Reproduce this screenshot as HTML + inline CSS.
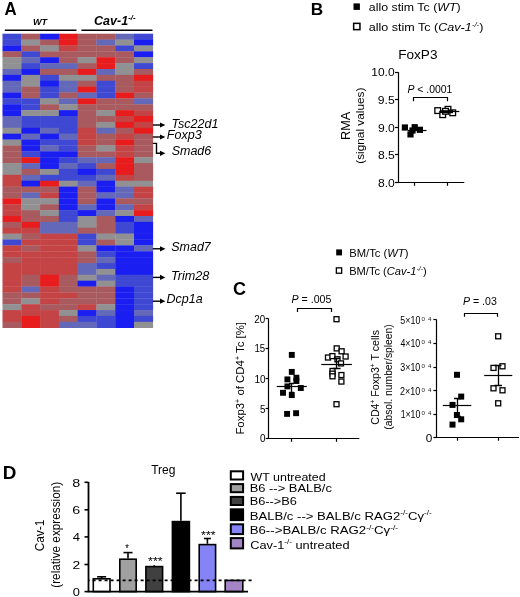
<!DOCTYPE html>
<html><head><meta charset="utf-8">
<style>
html,body{margin:0;padding:0;background:#fff;}
body{width:520px;height:597px;overflow:hidden;}
svg{display:block;filter:blur(0.35px);}
text{font-family:"Liberation Sans",sans-serif;fill:#000;}
.b{font-weight:bold;}
.i{font-style:italic;}
.bi{font-weight:bold;font-style:italic;}
.gr{fill:#1a1a1a;}
</style></head>
<body>
<svg width="520" height="597" viewBox="0 0 520 597">
<rect width="520" height="597" fill="#fff"/>
<line x1="4.8" y1="30.2" x2="76.5" y2="30.2" stroke="#000" stroke-width="1.6"/>
<line x1="81.4" y1="30.2" x2="152.5" y2="30.2" stroke="#000" stroke-width="1.6"/>
<rect x="2.50" y="33.70" width="19.09" height="6.18" fill="#3f48d2"/>
<rect x="21.29" y="33.70" width="19.09" height="6.18" fill="#a85a5e"/>
<rect x="40.08" y="33.70" width="19.09" height="6.18" fill="#1a1ef0"/>
<rect x="58.86" y="33.70" width="19.09" height="6.18" fill="#e81c1c"/>
<rect x="77.65" y="33.70" width="19.09" height="6.18" fill="#a85a5e"/>
<rect x="96.44" y="33.70" width="19.09" height="6.18" fill="#a85a5e"/>
<rect x="115.23" y="33.70" width="19.09" height="6.18" fill="#6468b8"/>
<rect x="134.01" y="33.70" width="19.09" height="6.18" fill="#3f48d2"/>
<rect x="2.50" y="39.58" width="19.09" height="6.18" fill="#3f48d2"/>
<rect x="21.29" y="39.58" width="19.09" height="6.18" fill="#919093"/>
<rect x="40.08" y="39.58" width="19.09" height="6.18" fill="#a85a5e"/>
<rect x="58.86" y="39.58" width="19.09" height="6.18" fill="#e81c1c"/>
<rect x="77.65" y="39.58" width="19.09" height="6.18" fill="#a85a5e"/>
<rect x="96.44" y="39.58" width="19.09" height="6.18" fill="#6468b8"/>
<rect x="115.23" y="39.58" width="19.09" height="6.18" fill="#919093"/>
<rect x="134.01" y="39.58" width="19.09" height="6.18" fill="#1a1ef0"/>
<rect x="2.50" y="45.46" width="19.09" height="6.18" fill="#1a1ef0"/>
<rect x="21.29" y="45.46" width="19.09" height="6.18" fill="#a85a5e"/>
<rect x="40.08" y="45.46" width="19.09" height="6.18" fill="#919093"/>
<rect x="58.86" y="45.46" width="19.09" height="6.18" fill="#c44446"/>
<rect x="77.65" y="45.46" width="19.09" height="6.18" fill="#a85a5e"/>
<rect x="96.44" y="45.46" width="19.09" height="6.18" fill="#a85a5e"/>
<rect x="115.23" y="45.46" width="19.09" height="6.18" fill="#3f48d2"/>
<rect x="134.01" y="45.46" width="19.09" height="6.18" fill="#919093"/>
<rect x="2.50" y="51.34" width="19.09" height="6.18" fill="#a85a5e"/>
<rect x="21.29" y="51.34" width="19.09" height="6.18" fill="#3f48d2"/>
<rect x="40.08" y="51.34" width="19.09" height="6.18" fill="#a85a5e"/>
<rect x="58.86" y="51.34" width="19.09" height="6.18" fill="#a85a5e"/>
<rect x="77.65" y="51.34" width="19.09" height="6.18" fill="#a85a5e"/>
<rect x="96.44" y="51.34" width="19.09" height="6.18" fill="#a85a5e"/>
<rect x="115.23" y="51.34" width="19.09" height="6.18" fill="#a85a5e"/>
<rect x="134.01" y="51.34" width="19.09" height="6.18" fill="#1a1ef0"/>
<rect x="2.50" y="57.22" width="19.09" height="6.18" fill="#919093"/>
<rect x="21.29" y="57.22" width="19.09" height="6.18" fill="#6468b8"/>
<rect x="40.08" y="57.22" width="19.09" height="6.18" fill="#1a1ef0"/>
<rect x="58.86" y="57.22" width="19.09" height="6.18" fill="#a85a5e"/>
<rect x="77.65" y="57.22" width="19.09" height="6.18" fill="#919093"/>
<rect x="96.44" y="57.22" width="19.09" height="6.18" fill="#e81c1c"/>
<rect x="115.23" y="57.22" width="19.09" height="6.18" fill="#a85a5e"/>
<rect x="134.01" y="57.22" width="19.09" height="6.18" fill="#919093"/>
<rect x="2.50" y="63.10" width="19.09" height="6.18" fill="#919093"/>
<rect x="21.29" y="63.10" width="19.09" height="6.18" fill="#3f48d2"/>
<rect x="40.08" y="63.10" width="19.09" height="6.18" fill="#6468b8"/>
<rect x="58.86" y="63.10" width="19.09" height="6.18" fill="#6468b8"/>
<rect x="77.65" y="63.10" width="19.09" height="6.18" fill="#a85a5e"/>
<rect x="96.44" y="63.10" width="19.09" height="6.18" fill="#e81c1c"/>
<rect x="115.23" y="63.10" width="19.09" height="6.18" fill="#919093"/>
<rect x="134.01" y="63.10" width="19.09" height="6.18" fill="#3f48d2"/>
<rect x="2.50" y="68.98" width="19.09" height="6.18" fill="#6468b8"/>
<rect x="21.29" y="68.98" width="19.09" height="6.18" fill="#1a1ef0"/>
<rect x="40.08" y="68.98" width="19.09" height="6.18" fill="#a85a5e"/>
<rect x="58.86" y="68.98" width="19.09" height="6.18" fill="#a85a5e"/>
<rect x="77.65" y="68.98" width="19.09" height="6.18" fill="#e81c1c"/>
<rect x="96.44" y="68.98" width="19.09" height="6.18" fill="#6468b8"/>
<rect x="115.23" y="68.98" width="19.09" height="6.18" fill="#919093"/>
<rect x="134.01" y="68.98" width="19.09" height="6.18" fill="#a85a5e"/>
<rect x="2.50" y="74.86" width="19.09" height="6.18" fill="#1a1ef0"/>
<rect x="21.29" y="74.86" width="19.09" height="6.18" fill="#919093"/>
<rect x="40.08" y="74.86" width="19.09" height="6.18" fill="#3f48d2"/>
<rect x="58.86" y="74.86" width="19.09" height="6.18" fill="#919093"/>
<rect x="77.65" y="74.86" width="19.09" height="6.18" fill="#919093"/>
<rect x="96.44" y="74.86" width="19.09" height="6.18" fill="#a85a5e"/>
<rect x="115.23" y="74.86" width="19.09" height="6.18" fill="#a85a5e"/>
<rect x="134.01" y="74.86" width="19.09" height="6.18" fill="#e81c1c"/>
<rect x="2.50" y="80.74" width="19.09" height="6.18" fill="#6468b8"/>
<rect x="21.29" y="80.74" width="19.09" height="6.18" fill="#919093"/>
<rect x="40.08" y="80.74" width="19.09" height="6.18" fill="#1a1ef0"/>
<rect x="58.86" y="80.74" width="19.09" height="6.18" fill="#6468b8"/>
<rect x="77.65" y="80.74" width="19.09" height="6.18" fill="#a85a5e"/>
<rect x="96.44" y="80.74" width="19.09" height="6.18" fill="#3f48d2"/>
<rect x="115.23" y="80.74" width="19.09" height="6.18" fill="#a85a5e"/>
<rect x="134.01" y="80.74" width="19.09" height="6.18" fill="#c44446"/>
<rect x="2.50" y="86.62" width="19.09" height="6.18" fill="#6468b8"/>
<rect x="21.29" y="86.62" width="19.09" height="6.18" fill="#a85a5e"/>
<rect x="40.08" y="86.62" width="19.09" height="6.18" fill="#3f48d2"/>
<rect x="58.86" y="86.62" width="19.09" height="6.18" fill="#6468b8"/>
<rect x="77.65" y="86.62" width="19.09" height="6.18" fill="#e81c1c"/>
<rect x="96.44" y="86.62" width="19.09" height="6.18" fill="#3f48d2"/>
<rect x="115.23" y="86.62" width="19.09" height="6.18" fill="#a85a5e"/>
<rect x="134.01" y="86.62" width="19.09" height="6.18" fill="#c44446"/>
<rect x="2.50" y="92.50" width="19.09" height="6.18" fill="#1a1ef0"/>
<rect x="21.29" y="92.50" width="19.09" height="6.18" fill="#a85a5e"/>
<rect x="40.08" y="92.50" width="19.09" height="6.18" fill="#3f48d2"/>
<rect x="58.86" y="92.50" width="19.09" height="6.18" fill="#a85a5e"/>
<rect x="77.65" y="92.50" width="19.09" height="6.18" fill="#6468b8"/>
<rect x="96.44" y="92.50" width="19.09" height="6.18" fill="#3f48d2"/>
<rect x="115.23" y="92.50" width="19.09" height="6.18" fill="#e81c1c"/>
<rect x="134.01" y="92.50" width="19.09" height="6.18" fill="#a85a5e"/>
<rect x="2.50" y="98.38" width="19.09" height="6.18" fill="#3f48d2"/>
<rect x="21.29" y="98.38" width="19.09" height="6.18" fill="#3f48d2"/>
<rect x="40.08" y="98.38" width="19.09" height="6.18" fill="#919093"/>
<rect x="58.86" y="98.38" width="19.09" height="6.18" fill="#6468b8"/>
<rect x="77.65" y="98.38" width="19.09" height="6.18" fill="#e81c1c"/>
<rect x="96.44" y="98.38" width="19.09" height="6.18" fill="#a85a5e"/>
<rect x="115.23" y="98.38" width="19.09" height="6.18" fill="#a85a5e"/>
<rect x="134.01" y="98.38" width="19.09" height="6.18" fill="#6468b8"/>
<rect x="2.50" y="104.26" width="19.09" height="6.18" fill="#1a1ef0"/>
<rect x="21.29" y="104.26" width="19.09" height="6.18" fill="#3f48d2"/>
<rect x="40.08" y="104.26" width="19.09" height="6.18" fill="#a85a5e"/>
<rect x="58.86" y="104.26" width="19.09" height="6.18" fill="#919093"/>
<rect x="77.65" y="104.26" width="19.09" height="6.18" fill="#a85a5e"/>
<rect x="96.44" y="104.26" width="19.09" height="6.18" fill="#a85a5e"/>
<rect x="115.23" y="104.26" width="19.09" height="6.18" fill="#a85a5e"/>
<rect x="134.01" y="104.26" width="19.09" height="6.18" fill="#a85a5e"/>
<rect x="2.50" y="110.14" width="19.09" height="6.18" fill="#1a1ef0"/>
<rect x="21.29" y="110.14" width="19.09" height="6.18" fill="#919093"/>
<rect x="40.08" y="110.14" width="19.09" height="6.18" fill="#919093"/>
<rect x="58.86" y="110.14" width="19.09" height="6.18" fill="#1a1ef0"/>
<rect x="77.65" y="110.14" width="19.09" height="6.18" fill="#a85a5e"/>
<rect x="96.44" y="110.14" width="19.09" height="6.18" fill="#919093"/>
<rect x="115.23" y="110.14" width="19.09" height="6.18" fill="#e81c1c"/>
<rect x="134.01" y="110.14" width="19.09" height="6.18" fill="#c44446"/>
<rect x="2.50" y="116.02" width="19.09" height="6.18" fill="#6468b8"/>
<rect x="21.29" y="116.02" width="19.09" height="6.18" fill="#3f48d2"/>
<rect x="40.08" y="116.02" width="19.09" height="6.18" fill="#3f48d2"/>
<rect x="58.86" y="116.02" width="19.09" height="6.18" fill="#3f48d2"/>
<rect x="77.65" y="116.02" width="19.09" height="6.18" fill="#a85a5e"/>
<rect x="96.44" y="116.02" width="19.09" height="6.18" fill="#a85a5e"/>
<rect x="115.23" y="116.02" width="19.09" height="6.18" fill="#c44446"/>
<rect x="134.01" y="116.02" width="19.09" height="6.18" fill="#e81c1c"/>
<rect x="2.50" y="121.90" width="19.09" height="6.18" fill="#6468b8"/>
<rect x="21.29" y="121.90" width="19.09" height="6.18" fill="#3f48d2"/>
<rect x="40.08" y="121.90" width="19.09" height="6.18" fill="#3f48d2"/>
<rect x="58.86" y="121.90" width="19.09" height="6.18" fill="#3f48d2"/>
<rect x="77.65" y="121.90" width="19.09" height="6.18" fill="#a85a5e"/>
<rect x="96.44" y="121.90" width="19.09" height="6.18" fill="#919093"/>
<rect x="115.23" y="121.90" width="19.09" height="6.18" fill="#e81c1c"/>
<rect x="134.01" y="121.90" width="19.09" height="6.18" fill="#c44446"/>
<rect x="2.50" y="127.78" width="19.09" height="6.18" fill="#919093"/>
<rect x="21.29" y="127.78" width="19.09" height="6.18" fill="#1a1ef0"/>
<rect x="40.08" y="127.78" width="19.09" height="6.18" fill="#6468b8"/>
<rect x="58.86" y="127.78" width="19.09" height="6.18" fill="#3f48d2"/>
<rect x="77.65" y="127.78" width="19.09" height="6.18" fill="#c44446"/>
<rect x="96.44" y="127.78" width="19.09" height="6.18" fill="#6468b8"/>
<rect x="115.23" y="127.78" width="19.09" height="6.18" fill="#a85a5e"/>
<rect x="134.01" y="127.78" width="19.09" height="6.18" fill="#e81c1c"/>
<rect x="2.50" y="133.66" width="19.09" height="6.18" fill="#1a1ef0"/>
<rect x="21.29" y="133.66" width="19.09" height="6.18" fill="#6468b8"/>
<rect x="40.08" y="133.66" width="19.09" height="6.18" fill="#1a1ef0"/>
<rect x="58.86" y="133.66" width="19.09" height="6.18" fill="#6468b8"/>
<rect x="77.65" y="133.66" width="19.09" height="6.18" fill="#c44446"/>
<rect x="96.44" y="133.66" width="19.09" height="6.18" fill="#a85a5e"/>
<rect x="115.23" y="133.66" width="19.09" height="6.18" fill="#c44446"/>
<rect x="134.01" y="133.66" width="19.09" height="6.18" fill="#a85a5e"/>
<rect x="2.50" y="139.54" width="19.09" height="6.18" fill="#919093"/>
<rect x="21.29" y="139.54" width="19.09" height="6.18" fill="#1a1ef0"/>
<rect x="40.08" y="139.54" width="19.09" height="6.18" fill="#3f48d2"/>
<rect x="58.86" y="139.54" width="19.09" height="6.18" fill="#3f48d2"/>
<rect x="77.65" y="139.54" width="19.09" height="6.18" fill="#c44446"/>
<rect x="96.44" y="139.54" width="19.09" height="6.18" fill="#a85a5e"/>
<rect x="115.23" y="139.54" width="19.09" height="6.18" fill="#e81c1c"/>
<rect x="134.01" y="139.54" width="19.09" height="6.18" fill="#a85a5e"/>
<rect x="2.50" y="145.42" width="19.09" height="6.18" fill="#a85a5e"/>
<rect x="21.29" y="145.42" width="19.09" height="6.18" fill="#1a1ef0"/>
<rect x="40.08" y="145.42" width="19.09" height="6.18" fill="#6468b8"/>
<rect x="58.86" y="145.42" width="19.09" height="6.18" fill="#3f48d2"/>
<rect x="77.65" y="145.42" width="19.09" height="6.18" fill="#a85a5e"/>
<rect x="96.44" y="145.42" width="19.09" height="6.18" fill="#919093"/>
<rect x="115.23" y="145.42" width="19.09" height="6.18" fill="#c44446"/>
<rect x="134.01" y="145.42" width="19.09" height="6.18" fill="#a85a5e"/>
<rect x="2.50" y="151.30" width="19.09" height="6.18" fill="#a85a5e"/>
<rect x="21.29" y="151.30" width="19.09" height="6.18" fill="#3f48d2"/>
<rect x="40.08" y="151.30" width="19.09" height="6.18" fill="#1a1ef0"/>
<rect x="58.86" y="151.30" width="19.09" height="6.18" fill="#1a1ef0"/>
<rect x="77.65" y="151.30" width="19.09" height="6.18" fill="#a85a5e"/>
<rect x="96.44" y="151.30" width="19.09" height="6.18" fill="#a85a5e"/>
<rect x="115.23" y="151.30" width="19.09" height="6.18" fill="#c44446"/>
<rect x="134.01" y="151.30" width="19.09" height="6.18" fill="#a85a5e"/>
<rect x="2.50" y="157.18" width="19.09" height="6.18" fill="#a85a5e"/>
<rect x="21.29" y="157.18" width="19.09" height="6.18" fill="#e81c1c"/>
<rect x="40.08" y="157.18" width="19.09" height="6.18" fill="#1a1ef0"/>
<rect x="58.86" y="157.18" width="19.09" height="6.18" fill="#3f48d2"/>
<rect x="77.65" y="157.18" width="19.09" height="6.18" fill="#6468b8"/>
<rect x="96.44" y="157.18" width="19.09" height="6.18" fill="#6468b8"/>
<rect x="115.23" y="157.18" width="19.09" height="6.18" fill="#e81c1c"/>
<rect x="134.01" y="157.18" width="19.09" height="6.18" fill="#919093"/>
<rect x="2.50" y="163.06" width="19.09" height="6.18" fill="#919093"/>
<rect x="21.29" y="163.06" width="19.09" height="6.18" fill="#6468b8"/>
<rect x="40.08" y="163.06" width="19.09" height="6.18" fill="#1a1ef0"/>
<rect x="58.86" y="163.06" width="19.09" height="6.18" fill="#6468b8"/>
<rect x="77.65" y="163.06" width="19.09" height="6.18" fill="#3f48d2"/>
<rect x="96.44" y="163.06" width="19.09" height="6.18" fill="#a85a5e"/>
<rect x="115.23" y="163.06" width="19.09" height="6.18" fill="#e81c1c"/>
<rect x="134.01" y="163.06" width="19.09" height="6.18" fill="#a85a5e"/>
<rect x="2.50" y="168.94" width="19.09" height="6.18" fill="#919093"/>
<rect x="21.29" y="168.94" width="19.09" height="6.18" fill="#a85a5e"/>
<rect x="40.08" y="168.94" width="19.09" height="6.18" fill="#919093"/>
<rect x="58.86" y="168.94" width="19.09" height="6.18" fill="#3f48d2"/>
<rect x="77.65" y="168.94" width="19.09" height="6.18" fill="#1a1ef0"/>
<rect x="96.44" y="168.94" width="19.09" height="6.18" fill="#3f48d2"/>
<rect x="115.23" y="168.94" width="19.09" height="6.18" fill="#e81c1c"/>
<rect x="134.01" y="168.94" width="19.09" height="6.18" fill="#a85a5e"/>
<rect x="2.50" y="174.82" width="19.09" height="6.18" fill="#c44446"/>
<rect x="21.29" y="174.82" width="19.09" height="6.18" fill="#6468b8"/>
<rect x="40.08" y="174.82" width="19.09" height="6.18" fill="#3f48d2"/>
<rect x="58.86" y="174.82" width="19.09" height="6.18" fill="#3f48d2"/>
<rect x="77.65" y="174.82" width="19.09" height="6.18" fill="#3f48d2"/>
<rect x="96.44" y="174.82" width="19.09" height="6.18" fill="#6468b8"/>
<rect x="115.23" y="174.82" width="19.09" height="6.18" fill="#c44446"/>
<rect x="134.01" y="174.82" width="19.09" height="6.18" fill="#a85a5e"/>
<rect x="2.50" y="180.70" width="19.09" height="6.18" fill="#c44446"/>
<rect x="21.29" y="180.70" width="19.09" height="6.18" fill="#1a1ef0"/>
<rect x="40.08" y="180.70" width="19.09" height="6.18" fill="#e81c1c"/>
<rect x="58.86" y="180.70" width="19.09" height="6.18" fill="#919093"/>
<rect x="77.65" y="180.70" width="19.09" height="6.18" fill="#6468b8"/>
<rect x="96.44" y="180.70" width="19.09" height="6.18" fill="#1a1ef0"/>
<rect x="115.23" y="180.70" width="19.09" height="6.18" fill="#919093"/>
<rect x="134.01" y="180.70" width="19.09" height="6.18" fill="#919093"/>
<rect x="2.50" y="186.58" width="19.09" height="6.18" fill="#a85a5e"/>
<rect x="21.29" y="186.58" width="19.09" height="6.18" fill="#a85a5e"/>
<rect x="40.08" y="186.58" width="19.09" height="6.18" fill="#a85a5e"/>
<rect x="58.86" y="186.58" width="19.09" height="6.18" fill="#1a1ef0"/>
<rect x="77.65" y="186.58" width="19.09" height="6.18" fill="#a85a5e"/>
<rect x="96.44" y="186.58" width="19.09" height="6.18" fill="#1a1ef0"/>
<rect x="115.23" y="186.58" width="19.09" height="6.18" fill="#6468b8"/>
<rect x="134.01" y="186.58" width="19.09" height="6.18" fill="#c44446"/>
<rect x="2.50" y="192.46" width="19.09" height="6.18" fill="#a85a5e"/>
<rect x="21.29" y="192.46" width="19.09" height="6.18" fill="#6468b8"/>
<rect x="40.08" y="192.46" width="19.09" height="6.18" fill="#c44446"/>
<rect x="58.86" y="192.46" width="19.09" height="6.18" fill="#1a1ef0"/>
<rect x="77.65" y="192.46" width="19.09" height="6.18" fill="#a85a5e"/>
<rect x="96.44" y="192.46" width="19.09" height="6.18" fill="#6468b8"/>
<rect x="115.23" y="192.46" width="19.09" height="6.18" fill="#6468b8"/>
<rect x="134.01" y="192.46" width="19.09" height="6.18" fill="#c44446"/>
<rect x="2.50" y="198.34" width="19.09" height="6.18" fill="#e81c1c"/>
<rect x="21.29" y="198.34" width="19.09" height="6.18" fill="#919093"/>
<rect x="40.08" y="198.34" width="19.09" height="6.18" fill="#919093"/>
<rect x="58.86" y="198.34" width="19.09" height="6.18" fill="#1a1ef0"/>
<rect x="77.65" y="198.34" width="19.09" height="6.18" fill="#a85a5e"/>
<rect x="96.44" y="198.34" width="19.09" height="6.18" fill="#1a1ef0"/>
<rect x="115.23" y="198.34" width="19.09" height="6.18" fill="#a85a5e"/>
<rect x="134.01" y="198.34" width="19.09" height="6.18" fill="#a85a5e"/>
<rect x="2.50" y="204.22" width="19.09" height="6.18" fill="#c44446"/>
<rect x="21.29" y="204.22" width="19.09" height="6.18" fill="#919093"/>
<rect x="40.08" y="204.22" width="19.09" height="6.18" fill="#a85a5e"/>
<rect x="58.86" y="204.22" width="19.09" height="6.18" fill="#1a1ef0"/>
<rect x="77.65" y="204.22" width="19.09" height="6.18" fill="#6468b8"/>
<rect x="96.44" y="204.22" width="19.09" height="6.18" fill="#1a1ef0"/>
<rect x="115.23" y="204.22" width="19.09" height="6.18" fill="#6468b8"/>
<rect x="134.01" y="204.22" width="19.09" height="6.18" fill="#c44446"/>
<rect x="2.50" y="210.10" width="19.09" height="6.18" fill="#c44446"/>
<rect x="21.29" y="210.10" width="19.09" height="6.18" fill="#a85a5e"/>
<rect x="40.08" y="210.10" width="19.09" height="6.18" fill="#919093"/>
<rect x="58.86" y="210.10" width="19.09" height="6.18" fill="#3f48d2"/>
<rect x="77.65" y="210.10" width="19.09" height="6.18" fill="#1a1ef0"/>
<rect x="96.44" y="210.10" width="19.09" height="6.18" fill="#6468b8"/>
<rect x="115.23" y="210.10" width="19.09" height="6.18" fill="#919093"/>
<rect x="134.01" y="210.10" width="19.09" height="6.18" fill="#e81c1c"/>
<rect x="2.50" y="215.98" width="19.09" height="6.18" fill="#e81c1c"/>
<rect x="21.29" y="215.98" width="19.09" height="6.18" fill="#a85a5e"/>
<rect x="40.08" y="215.98" width="19.09" height="6.18" fill="#a85a5e"/>
<rect x="58.86" y="215.98" width="19.09" height="6.18" fill="#3f48d2"/>
<rect x="77.65" y="215.98" width="19.09" height="6.18" fill="#919093"/>
<rect x="96.44" y="215.98" width="19.09" height="6.18" fill="#a85a5e"/>
<rect x="115.23" y="215.98" width="19.09" height="6.18" fill="#1a1ef0"/>
<rect x="134.01" y="215.98" width="19.09" height="6.18" fill="#6468b8"/>
<rect x="2.50" y="221.86" width="19.09" height="6.18" fill="#a85a5e"/>
<rect x="21.29" y="221.86" width="19.09" height="6.18" fill="#e81c1c"/>
<rect x="40.08" y="221.86" width="19.09" height="6.18" fill="#6468b8"/>
<rect x="58.86" y="221.86" width="19.09" height="6.18" fill="#6468b8"/>
<rect x="77.65" y="221.86" width="19.09" height="6.18" fill="#919093"/>
<rect x="96.44" y="221.86" width="19.09" height="6.18" fill="#a85a5e"/>
<rect x="115.23" y="221.86" width="19.09" height="6.18" fill="#3f48d2"/>
<rect x="134.01" y="221.86" width="19.09" height="6.18" fill="#1a1ef0"/>
<rect x="2.50" y="227.74" width="19.09" height="6.18" fill="#c44446"/>
<rect x="21.29" y="227.74" width="19.09" height="6.18" fill="#c44446"/>
<rect x="40.08" y="227.74" width="19.09" height="6.18" fill="#6468b8"/>
<rect x="58.86" y="227.74" width="19.09" height="6.18" fill="#6468b8"/>
<rect x="77.65" y="227.74" width="19.09" height="6.18" fill="#a85a5e"/>
<rect x="96.44" y="227.74" width="19.09" height="6.18" fill="#a85a5e"/>
<rect x="115.23" y="227.74" width="19.09" height="6.18" fill="#3f48d2"/>
<rect x="134.01" y="227.74" width="19.09" height="6.18" fill="#1a1ef0"/>
<rect x="2.50" y="233.62" width="19.09" height="6.18" fill="#919093"/>
<rect x="21.29" y="233.62" width="19.09" height="6.18" fill="#a85a5e"/>
<rect x="40.08" y="233.62" width="19.09" height="6.18" fill="#c44446"/>
<rect x="58.86" y="233.62" width="19.09" height="6.18" fill="#c44446"/>
<rect x="77.65" y="233.62" width="19.09" height="6.18" fill="#3f48d2"/>
<rect x="96.44" y="233.62" width="19.09" height="6.18" fill="#919093"/>
<rect x="115.23" y="233.62" width="19.09" height="6.18" fill="#919093"/>
<rect x="134.01" y="233.62" width="19.09" height="6.18" fill="#1a1ef0"/>
<rect x="2.50" y="239.50" width="19.09" height="6.18" fill="#3f48d2"/>
<rect x="21.29" y="239.50" width="19.09" height="6.18" fill="#c44446"/>
<rect x="40.08" y="239.50" width="19.09" height="6.18" fill="#c44446"/>
<rect x="58.86" y="239.50" width="19.09" height="6.18" fill="#c44446"/>
<rect x="77.65" y="239.50" width="19.09" height="6.18" fill="#3f48d2"/>
<rect x="96.44" y="239.50" width="19.09" height="6.18" fill="#a85a5e"/>
<rect x="115.23" y="239.50" width="19.09" height="6.18" fill="#919093"/>
<rect x="134.01" y="239.50" width="19.09" height="6.18" fill="#1a1ef0"/>
<rect x="2.50" y="245.38" width="19.09" height="6.18" fill="#c44446"/>
<rect x="21.29" y="245.38" width="19.09" height="6.18" fill="#a85a5e"/>
<rect x="40.08" y="245.38" width="19.09" height="6.18" fill="#c44446"/>
<rect x="58.86" y="245.38" width="19.09" height="6.18" fill="#c44446"/>
<rect x="77.65" y="245.38" width="19.09" height="6.18" fill="#919093"/>
<rect x="96.44" y="245.38" width="19.09" height="6.18" fill="#1a1ef0"/>
<rect x="115.23" y="245.38" width="19.09" height="6.18" fill="#1a1ef0"/>
<rect x="134.01" y="245.38" width="19.09" height="6.18" fill="#6468b8"/>
<rect x="2.50" y="251.26" width="19.09" height="6.18" fill="#c44446"/>
<rect x="21.29" y="251.26" width="19.09" height="6.18" fill="#c44446"/>
<rect x="40.08" y="251.26" width="19.09" height="6.18" fill="#c44446"/>
<rect x="58.86" y="251.26" width="19.09" height="6.18" fill="#c44446"/>
<rect x="77.65" y="251.26" width="19.09" height="6.18" fill="#a85a5e"/>
<rect x="96.44" y="251.26" width="19.09" height="6.18" fill="#3f48d2"/>
<rect x="115.23" y="251.26" width="19.09" height="6.18" fill="#1a1ef0"/>
<rect x="134.01" y="251.26" width="19.09" height="6.18" fill="#1a1ef0"/>
<rect x="2.50" y="257.14" width="19.09" height="6.18" fill="#a85a5e"/>
<rect x="21.29" y="257.14" width="19.09" height="6.18" fill="#c44446"/>
<rect x="40.08" y="257.14" width="19.09" height="6.18" fill="#c44446"/>
<rect x="58.86" y="257.14" width="19.09" height="6.18" fill="#c44446"/>
<rect x="77.65" y="257.14" width="19.09" height="6.18" fill="#a85a5e"/>
<rect x="96.44" y="257.14" width="19.09" height="6.18" fill="#6468b8"/>
<rect x="115.23" y="257.14" width="19.09" height="6.18" fill="#1a1ef0"/>
<rect x="134.01" y="257.14" width="19.09" height="6.18" fill="#1a1ef0"/>
<rect x="2.50" y="263.02" width="19.09" height="6.18" fill="#c44446"/>
<rect x="21.29" y="263.02" width="19.09" height="6.18" fill="#c44446"/>
<rect x="40.08" y="263.02" width="19.09" height="6.18" fill="#c44446"/>
<rect x="58.86" y="263.02" width="19.09" height="6.18" fill="#c44446"/>
<rect x="77.65" y="263.02" width="19.09" height="6.18" fill="#6468b8"/>
<rect x="96.44" y="263.02" width="19.09" height="6.18" fill="#3f48d2"/>
<rect x="115.23" y="263.02" width="19.09" height="6.18" fill="#1a1ef0"/>
<rect x="134.01" y="263.02" width="19.09" height="6.18" fill="#1a1ef0"/>
<rect x="2.50" y="268.90" width="19.09" height="6.18" fill="#c44446"/>
<rect x="21.29" y="268.90" width="19.09" height="6.18" fill="#c44446"/>
<rect x="40.08" y="268.90" width="19.09" height="6.18" fill="#c44446"/>
<rect x="58.86" y="268.90" width="19.09" height="6.18" fill="#c44446"/>
<rect x="77.65" y="268.90" width="19.09" height="6.18" fill="#6468b8"/>
<rect x="96.44" y="268.90" width="19.09" height="6.18" fill="#919093"/>
<rect x="115.23" y="268.90" width="19.09" height="6.18" fill="#1a1ef0"/>
<rect x="134.01" y="268.90" width="19.09" height="6.18" fill="#1a1ef0"/>
<rect x="2.50" y="274.78" width="19.09" height="6.18" fill="#c44446"/>
<rect x="21.29" y="274.78" width="19.09" height="6.18" fill="#a85a5e"/>
<rect x="40.08" y="274.78" width="19.09" height="6.18" fill="#e81c1c"/>
<rect x="58.86" y="274.78" width="19.09" height="6.18" fill="#a85a5e"/>
<rect x="77.65" y="274.78" width="19.09" height="6.18" fill="#919093"/>
<rect x="96.44" y="274.78" width="19.09" height="6.18" fill="#6468b8"/>
<rect x="115.23" y="274.78" width="19.09" height="6.18" fill="#3f48d2"/>
<rect x="134.01" y="274.78" width="19.09" height="6.18" fill="#3f48d2"/>
<rect x="2.50" y="280.66" width="19.09" height="6.18" fill="#c44446"/>
<rect x="21.29" y="280.66" width="19.09" height="6.18" fill="#a85a5e"/>
<rect x="40.08" y="280.66" width="19.09" height="6.18" fill="#e81c1c"/>
<rect x="58.86" y="280.66" width="19.09" height="6.18" fill="#a85a5e"/>
<rect x="77.65" y="280.66" width="19.09" height="6.18" fill="#1a1ef0"/>
<rect x="96.44" y="280.66" width="19.09" height="6.18" fill="#919093"/>
<rect x="115.23" y="280.66" width="19.09" height="6.18" fill="#3f48d2"/>
<rect x="134.01" y="280.66" width="19.09" height="6.18" fill="#3f48d2"/>
<rect x="2.50" y="286.54" width="19.09" height="6.18" fill="#c44446"/>
<rect x="21.29" y="286.54" width="19.09" height="6.18" fill="#6468b8"/>
<rect x="40.08" y="286.54" width="19.09" height="6.18" fill="#c44446"/>
<rect x="58.86" y="286.54" width="19.09" height="6.18" fill="#a85a5e"/>
<rect x="77.65" y="286.54" width="19.09" height="6.18" fill="#a85a5e"/>
<rect x="96.44" y="286.54" width="19.09" height="6.18" fill="#a85a5e"/>
<rect x="115.23" y="286.54" width="19.09" height="6.18" fill="#1a1ef0"/>
<rect x="134.01" y="286.54" width="19.09" height="6.18" fill="#3f48d2"/>
<rect x="2.50" y="292.42" width="19.09" height="6.18" fill="#a85a5e"/>
<rect x="21.29" y="292.42" width="19.09" height="6.18" fill="#a85a5e"/>
<rect x="40.08" y="292.42" width="19.09" height="6.18" fill="#c44446"/>
<rect x="58.86" y="292.42" width="19.09" height="6.18" fill="#c44446"/>
<rect x="77.65" y="292.42" width="19.09" height="6.18" fill="#a85a5e"/>
<rect x="96.44" y="292.42" width="19.09" height="6.18" fill="#a85a5e"/>
<rect x="115.23" y="292.42" width="19.09" height="6.18" fill="#1a1ef0"/>
<rect x="134.01" y="292.42" width="19.09" height="6.18" fill="#3f48d2"/>
<rect x="2.50" y="298.30" width="19.09" height="6.18" fill="#a85a5e"/>
<rect x="21.29" y="298.30" width="19.09" height="6.18" fill="#919093"/>
<rect x="40.08" y="298.30" width="19.09" height="6.18" fill="#c44446"/>
<rect x="58.86" y="298.30" width="19.09" height="6.18" fill="#a85a5e"/>
<rect x="77.65" y="298.30" width="19.09" height="6.18" fill="#a85a5e"/>
<rect x="96.44" y="298.30" width="19.09" height="6.18" fill="#a85a5e"/>
<rect x="115.23" y="298.30" width="19.09" height="6.18" fill="#1a1ef0"/>
<rect x="134.01" y="298.30" width="19.09" height="6.18" fill="#3f48d2"/>
<rect x="2.50" y="304.18" width="19.09" height="6.18" fill="#919093"/>
<rect x="21.29" y="304.18" width="19.09" height="6.18" fill="#c44446"/>
<rect x="40.08" y="304.18" width="19.09" height="6.18" fill="#a85a5e"/>
<rect x="58.86" y="304.18" width="19.09" height="6.18" fill="#a85a5e"/>
<rect x="77.65" y="304.18" width="19.09" height="6.18" fill="#c44446"/>
<rect x="96.44" y="304.18" width="19.09" height="6.18" fill="#919093"/>
<rect x="115.23" y="304.18" width="19.09" height="6.18" fill="#1a1ef0"/>
<rect x="134.01" y="304.18" width="19.09" height="6.18" fill="#3f48d2"/>
<rect x="2.50" y="310.06" width="19.09" height="6.18" fill="#c44446"/>
<rect x="21.29" y="310.06" width="19.09" height="6.18" fill="#c44446"/>
<rect x="40.08" y="310.06" width="19.09" height="6.18" fill="#c44446"/>
<rect x="58.86" y="310.06" width="19.09" height="6.18" fill="#919093"/>
<rect x="77.65" y="310.06" width="19.09" height="6.18" fill="#1a1ef0"/>
<rect x="96.44" y="310.06" width="19.09" height="6.18" fill="#6468b8"/>
<rect x="115.23" y="310.06" width="19.09" height="6.18" fill="#1a1ef0"/>
<rect x="134.01" y="310.06" width="19.09" height="6.18" fill="#6468b8"/>
<rect x="2.50" y="315.94" width="19.09" height="6.18" fill="#c44446"/>
<rect x="21.29" y="315.94" width="19.09" height="6.18" fill="#e81c1c"/>
<rect x="40.08" y="315.94" width="19.09" height="6.18" fill="#c44446"/>
<rect x="58.86" y="315.94" width="19.09" height="6.18" fill="#a85a5e"/>
<rect x="77.65" y="315.94" width="19.09" height="6.18" fill="#3f48d2"/>
<rect x="96.44" y="315.94" width="19.09" height="6.18" fill="#3f48d2"/>
<rect x="115.23" y="315.94" width="19.09" height="6.18" fill="#1a1ef0"/>
<rect x="134.01" y="315.94" width="19.09" height="6.18" fill="#3f48d2"/>
<rect x="2.50" y="321.82" width="19.09" height="6.18" fill="#a85a5e"/>
<rect x="21.29" y="321.82" width="19.09" height="6.18" fill="#e81c1c"/>
<rect x="40.08" y="321.82" width="19.09" height="6.18" fill="#c44446"/>
<rect x="58.86" y="321.82" width="19.09" height="6.18" fill="#6468b8"/>
<rect x="77.65" y="321.82" width="19.09" height="6.18" fill="#6468b8"/>
<rect x="96.44" y="321.82" width="19.09" height="6.18" fill="#3f48d2"/>
<rect x="115.23" y="321.82" width="19.09" height="6.18" fill="#1a1ef0"/>
<rect x="134.01" y="321.82" width="19.09" height="6.18" fill="#919093"/>
<line x1="152.8" y1="125.0" x2="161.4" y2="125.0" stroke="#000" stroke-width="1.4"/><path d="M160.0,122.4 L165.4,125.0 L160.0,127.6 Z" fill="#000"/>
<line x1="152.8" y1="137.0" x2="161.4" y2="137.0" stroke="#000" stroke-width="1.4"/><path d="M160.0,134.4 L165.4,137.0 L160.0,139.6 Z" fill="#000"/>
<line x1="152.8" y1="248.8" x2="161.4" y2="248.8" stroke="#000" stroke-width="1.4"/><path d="M160.0,246.20000000000002 L165.4,248.8 L160.0,251.4 Z" fill="#000"/>
<line x1="152.8" y1="277.4" x2="161.4" y2="277.4" stroke="#000" stroke-width="1.4"/><path d="M160.0,274.79999999999995 L165.4,277.4 L160.0,280.0 Z" fill="#000"/>
<line x1="152.8" y1="301.2" x2="161.4" y2="301.2" stroke="#000" stroke-width="1.4"/><path d="M160.0,298.59999999999997 L165.4,301.2 L160.0,303.8 Z" fill="#000"/>
<path d="M152.8,143.4 H156.5 V153.3 H161.5" fill="none" stroke="#000" stroke-width="1.4"/>
<path d="M160,150.7 L165.4,153.3 L160,155.9 Z" fill="#000"/>
<rect x="353.5" y="3.4" width="6.4" height="6.5" fill="#000"/>
<rect x="353.65" y="23.35" width="6.3" height="6.3" fill="#fff" stroke="#000" stroke-width="1.5"/>
<path d="M398.5,72.3 V182.5 H464.3" fill="none" stroke="#000" stroke-width="1.2"/>
<line x1="395.0" y1="72.5" x2="398.5" y2="72.5" stroke="#000" stroke-width="1.2"/>
<line x1="395.0" y1="99.5" x2="398.5" y2="99.5" stroke="#000" stroke-width="1.2"/>
<line x1="395.0" y1="127.5" x2="398.5" y2="127.5" stroke="#000" stroke-width="1.2"/>
<line x1="395.0" y1="154.5" x2="398.5" y2="154.5" stroke="#000" stroke-width="1.2"/>
<line x1="395.0" y1="182.5" x2="398.5" y2="182.5" stroke="#000" stroke-width="1.2"/>
<line x1="414.5" y1="182.5" x2="414.5" y2="185.8" stroke="#000" stroke-width="1.2"/>
<line x1="447.5" y1="182.5" x2="447.5" y2="185.8" stroke="#000" stroke-width="1.2"/>
<path d="M413.5,101.3 V97.5 H447.5 V101.3" fill="none" stroke="#000" stroke-width="1.2"/>
<rect x="401.80" y="124.40" width="6.2" height="6.2" fill="#000"/>
<rect x="411.60" y="124.10" width="6.2" height="6.2" fill="#000"/>
<rect x="416.80" y="126.70" width="6.2" height="6.2" fill="#000"/>
<rect x="407.40" y="131.30" width="6.2" height="6.2" fill="#000"/>
<rect x="409.40" y="127.40" width="6.2" height="6.2" fill="#000"/>
<line x1="408" y1="130.5" x2="426.5" y2="130.5" stroke="#000" stroke-width="1.2"/>
<rect x="434.85" y="107.75" width="5.70" height="5.70" fill="#fff" stroke="#000" stroke-width="1.3"/>
<rect x="445.15" y="106.45" width="5.70" height="5.70" fill="#fff" stroke="#000" stroke-width="1.3"/>
<rect x="439.85" y="111.85" width="5.70" height="5.70" fill="#fff" stroke="#000" stroke-width="1.3"/>
<rect x="449.85" y="109.95" width="5.70" height="5.70" fill="#fff" stroke="#000" stroke-width="1.3"/>
<rect x="442.65" y="108.45" width="5.70" height="5.70" fill="#fff" stroke="#000" stroke-width="1.3"/>
<line x1="439.6" y1="111.5" x2="459.3" y2="111.5" stroke="#000" stroke-width="1.2"/>
<rect x="440" y="110.2" width="13" height="3" fill="#000"/>
<rect x="336.2" y="249.4" width="5.8" height="6" fill="#000"/>
<rect x="336.35" y="267.85" width="5.3" height="5.4" fill="#fff" stroke="#000" stroke-width="1.3"/>
<path d="M268.5,318.5 V438.5 H359.3" fill="none" stroke="#000" stroke-width="1.2"/>
<line x1="265.6" y1="318.5" x2="268.5" y2="318.5" stroke="#000" stroke-width="1.2"/>
<line x1="265.6" y1="348.5" x2="268.5" y2="348.5" stroke="#000" stroke-width="1.2"/>
<line x1="265.6" y1="378.5" x2="268.5" y2="378.5" stroke="#000" stroke-width="1.2"/>
<line x1="265.6" y1="408.5" x2="268.5" y2="408.5" stroke="#000" stroke-width="1.2"/>
<line x1="265.6" y1="438.5" x2="268.5" y2="438.5" stroke="#000" stroke-width="1.2"/>
<line x1="291.5" y1="438.5" x2="291.5" y2="441.8" stroke="#000" stroke-width="1.2"/>
<line x1="336.5" y1="438.5" x2="336.5" y2="441.8" stroke="#000" stroke-width="1.2"/>
<path d="M297.5,311.9 V308.5 H331.5 V311.9" fill="none" stroke="#000" stroke-width="1.2"/>
<rect x="288.85" y="351.95" width="5.9" height="5.9" fill="#000"/>
<rect x="288.85" y="368.95" width="5.9" height="5.9" fill="#000"/>
<rect x="284.45" y="376.45" width="5.9" height="5.9" fill="#000"/>
<rect x="293.45" y="374.75" width="5.9" height="5.9" fill="#000"/>
<rect x="293.45" y="378.05" width="5.9" height="5.9" fill="#000"/>
<rect x="284.45" y="383.45" width="5.9" height="5.9" fill="#000"/>
<rect x="280.05" y="389.85" width="5.9" height="5.9" fill="#000"/>
<rect x="288.85" y="392.15" width="5.9" height="5.9" fill="#000"/>
<rect x="297.85" y="385.05" width="5.9" height="5.9" fill="#000"/>
<rect x="284.15" y="410.95" width="5.9" height="5.9" fill="#000"/>
<rect x="293.15" y="410.25" width="5.9" height="5.9" fill="#000"/>
<line x1="276.7" y1="386.5" x2="306.8" y2="386.5" stroke="#000" stroke-width="1.2"/>
<path d="M289,383.5 H294 M291.5,383.5 V392.5 M289,392.5 H294" fill="none" stroke="#000" stroke-width="1.3"/>
<rect x="334.00" y="316.70" width="5.00" height="5.00" fill="#fff" stroke="#000" stroke-width="1.3"/>
<rect x="334.20" y="345.90" width="5.00" height="5.00" fill="#fff" stroke="#000" stroke-width="1.3"/>
<rect x="339.10" y="348.80" width="5.00" height="5.00" fill="#fff" stroke="#000" stroke-width="1.3"/>
<rect x="325.50" y="355.00" width="5.00" height="5.00" fill="#fff" stroke="#000" stroke-width="1.3"/>
<rect x="329.90" y="353.60" width="5.00" height="5.00" fill="#fff" stroke="#000" stroke-width="1.3"/>
<rect x="343.10" y="354.00" width="5.00" height="5.00" fill="#fff" stroke="#000" stroke-width="1.3"/>
<rect x="335.00" y="356.80" width="5.00" height="5.00" fill="#fff" stroke="#000" stroke-width="1.3"/>
<rect x="338.50" y="360.90" width="5.00" height="5.00" fill="#fff" stroke="#000" stroke-width="1.3"/>
<rect x="330.00" y="368.50" width="5.00" height="5.00" fill="#fff" stroke="#000" stroke-width="1.3"/>
<rect x="330.00" y="371.15" width="5.00" height="5.00" fill="#fff" stroke="#000" stroke-width="1.3"/>
<rect x="330.00" y="373.80" width="5.00" height="5.00" fill="#fff" stroke="#000" stroke-width="1.3"/>
<rect x="338.90" y="372.55" width="5.00" height="5.00" fill="#fff" stroke="#000" stroke-width="1.3"/>
<rect x="338.90" y="379.05" width="5.00" height="5.00" fill="#fff" stroke="#000" stroke-width="1.3"/>
<rect x="334.00" y="401.70" width="5.00" height="5.00" fill="#fff" stroke="#000" stroke-width="1.3"/>
<line x1="321.3" y1="364.5" x2="351.9" y2="364.5" stroke="#000" stroke-width="1.2"/>
<path d="M333.5,358.5 H340 M336.5,358.5 V368.5 M332.6,368.5 H340.6" fill="none" stroke="#000" stroke-width="1.3"/>
<path d="M436.5,319.5 V437.5 H519" fill="none" stroke="#000" stroke-width="1.2"/>
<line x1="433.4" y1="319.5" x2="436.5" y2="319.5" stroke="#000" stroke-width="1.2"/>
<line x1="433.4" y1="343.5" x2="436.5" y2="343.5" stroke="#000" stroke-width="1.2"/>
<line x1="433.4" y1="367.5" x2="436.5" y2="367.5" stroke="#000" stroke-width="1.2"/>
<line x1="433.4" y1="390.5" x2="436.5" y2="390.5" stroke="#000" stroke-width="1.2"/>
<line x1="433.4" y1="414.5" x2="436.5" y2="414.5" stroke="#000" stroke-width="1.2"/>
<line x1="433.4" y1="437.5" x2="436.5" y2="437.5" stroke="#000" stroke-width="1.2"/>
<line x1="457.5" y1="437.5" x2="457.5" y2="440.7" stroke="#000" stroke-width="1.2"/>
<line x1="498.5" y1="437.5" x2="498.5" y2="440.7" stroke="#000" stroke-width="1.2"/>
<path d="M464.5,316.8 V313.5 H497.5 V316.8" fill="none" stroke="#000" stroke-width="1.2"/>
<rect x="454.00" y="371.80" width="6.0" height="6.0" fill="#000"/>
<rect x="458.20" y="393.60" width="6.0" height="6.0" fill="#000"/>
<rect x="449.50" y="401.90" width="6.0" height="6.0" fill="#000"/>
<rect x="453.90" y="412.00" width="6.0" height="6.0" fill="#000"/>
<rect x="458.20" y="416.30" width="6.0" height="6.0" fill="#000"/>
<rect x="449.50" y="421.60" width="6.0" height="6.0" fill="#000"/>
<line x1="442.8" y1="405.5" x2="471.3" y2="405.5" stroke="#000" stroke-width="1.2"/>
<path d="M454,398.5 H461 M457.5,398.5 V416.5 M454,416.5 H461" fill="none" stroke="#000" stroke-width="1.3"/>
<rect x="495.70" y="333.80" width="5.00" height="5.00" fill="#fff" stroke="#000" stroke-width="1.3"/>
<rect x="491.00" y="365.40" width="5.00" height="5.00" fill="#fff" stroke="#000" stroke-width="1.3"/>
<rect x="500.00" y="363.80" width="5.00" height="5.00" fill="#fff" stroke="#000" stroke-width="1.3"/>
<rect x="491.00" y="385.80" width="5.00" height="5.00" fill="#fff" stroke="#000" stroke-width="1.3"/>
<rect x="500.00" y="387.80" width="5.00" height="5.00" fill="#fff" stroke="#000" stroke-width="1.3"/>
<rect x="495.70" y="400.80" width="5.00" height="5.00" fill="#fff" stroke="#000" stroke-width="1.3"/>
<line x1="484.2" y1="375.5" x2="512.3" y2="375.5" stroke="#000" stroke-width="1.2"/>
<path d="M494.5,365.5 H501.5 M498.5,365.5 V385.5 M494.5,385.5 H502" fill="none" stroke="#000" stroke-width="1.3"/>
<line x1="101.65" y1="578.0" x2="101.65" y2="576.8" stroke="#000" stroke-width="1.6"/>
<line x1="97.15" y1="576.8" x2="106.15" y2="576.8" stroke="#000" stroke-width="1.6"/>
<rect x="93.3" y="578.8" width="16.699999999999996" height="12.800000000000022" fill="#ffffff" stroke="#000" stroke-width="1.6"/>
<line x1="128.0" y1="558.4" x2="128.0" y2="552.6" stroke="#000" stroke-width="1.6"/>
<line x1="123.5" y1="552.6" x2="132.5" y2="552.6" stroke="#000" stroke-width="1.6"/>
<rect x="119.8" y="559.1999999999999" width="16.4" height="32.40000000000005" fill="#a0a0a0" stroke="#000" stroke-width="1.6"/>
<line x1="154.25" y1="565.8" x2="154.25" y2="565.0" stroke="#000" stroke-width="1.6"/>
<rect x="145.9" y="566.5999999999999" width="16.70000000000001" height="25.000000000000068" fill="#404040" stroke="#000" stroke-width="1.6"/>
<line x1="180.89999999999998" y1="520.8" x2="180.89999999999998" y2="493.2" stroke="#000" stroke-width="1.6"/>
<line x1="176.14999999999998" y1="493.2" x2="185.64999999999998" y2="493.2" stroke="#000" stroke-width="1.6"/>
<rect x="172.4" y="521.5999999999999" width="16.999999999999993" height="70.00000000000007" fill="#000000" stroke="#000" stroke-width="1.6"/>
<line x1="207.4" y1="543.8" x2="207.4" y2="538.5" stroke="#000" stroke-width="1.6"/>
<line x1="203.9" y1="538.5" x2="210.9" y2="538.5" stroke="#000" stroke-width="1.6"/>
<rect x="199.20000000000002" y="544.5999999999999" width="16.4" height="47.00000000000007" fill="#8484f6" stroke="#000" stroke-width="1.6"/>
<rect x="225.20000000000002" y="580.4" width="17.599999999999987" height="11.2" fill="#a384c4" stroke="#000" stroke-width="1.6"/>
<line x1="89" y1="580.4" x2="254" y2="580.4" stroke="#000" stroke-width="1.6" stroke-dasharray="3,3" stroke-dashoffset="2.4"/>
<path d="M88.5,482 V591.6 H248" fill="none" stroke="#000" stroke-width="1.8"/>
<line x1="84.5" y1="482.3" x2="88.5" y2="482.3" stroke="#000" stroke-width="1.6"/>
<line x1="84.5" y1="509.8" x2="88.5" y2="509.8" stroke="#000" stroke-width="1.6"/>
<line x1="84.5" y1="536.9" x2="88.5" y2="536.9" stroke="#000" stroke-width="1.6"/>
<line x1="84.5" y1="564.5" x2="88.5" y2="564.5" stroke="#000" stroke-width="1.6"/>
<line x1="84.5" y1="591.6" x2="88.5" y2="591.6" stroke="#000" stroke-width="1.6"/>
<rect x="230.8" y="471.3" width="12.3" height="8.2" fill="#ffffff" stroke="#000" stroke-width="2"/>
<rect x="230.8" y="484.1" width="12.3" height="8.1" fill="#a0a0a0" stroke="#000" stroke-width="2"/>
<rect x="230.8" y="496.9" width="12.3" height="8.1" fill="#404040" stroke="#000" stroke-width="2"/>
<rect x="230.8" y="509.3" width="12.3" height="10.8" fill="#000000" stroke="#000" stroke-width="2"/>
<rect x="230.8" y="524.3" width="12.3" height="9.8" fill="#8484f6" stroke="#000" stroke-width="2"/>
<rect x="230.8" y="538.1" width="12.3" height="10.3" fill="#a384c4" stroke="#000" stroke-width="2"/>
<text class="b" font-size="17.5" transform="translate(4.42,15.10) scale(0.9617,1.0000)">A</text>
<text class="bi" font-size="8.8" transform="translate(33.03,24.80) scale(1.0296,1.0000)">WT</text>
<text class="bi" font-size="12.2" transform="translate(93.98,24.70) scale(1.0304,1.0000)">Cav-1<tspan class="sup" font-size="7.5" dy="-4.6">-/-</tspan></text>
<text class="i" font-size="12.0" transform="translate(171.49,128.15) scale(1.0456,1.0000)">Tsc22d1</text>
<text class="i" font-size="12.0" transform="translate(166.77,139.45) scale(1.0504,1.0000)">Foxp3</text>
<text class="i" font-size="12.0" transform="translate(171.68,155.25) scale(1.0400,1.0000)">Smad6</text>
<text class="i" font-size="12.0" transform="translate(171.18,251.25) scale(1.0421,1.0000)">Smad7</text>
<text class="i" font-size="12.0" transform="translate(170.98,280.15) scale(1.0543,1.0000)">Trim28</text>
<text class="i" font-size="12.0" transform="translate(166.48,303.35) scale(1.0430,1.0000)">Dcp1a</text>
<text class="b" font-size="17.0" transform="translate(310.73,15.25) scale(1.0146,1.0000)">B</text>
<text font-size="11.4" transform="translate(368.76,11.35) scale(1.0862,1.0000)">allo stim Tc (<tspan class="i">WT</tspan>)</text>
<text font-size="11.4" transform="translate(368.75,30.85) scale(1.1019,1.0000)">allo stim Tc (<tspan class="i">Cav-1<tspan class="sup" font-size="7.2" dy="-4.3">-/-</tspan></tspan><tspan dy="4.3">)</tspan></text>
<text font-size="12.0" transform="translate(398.17,58.85) scale(1.1338,1.0000)">FoxP3</text>
<text font-size="11.6" transform="translate(371.26,76.40) scale(1.0353,1.0000)">10.0</text>
<text font-size="11.6" transform="translate(377.78,103.90) scale(1.0492,1.0000)">9.5</text>
<text font-size="11.6" transform="translate(377.88,132.00) scale(1.0492,1.0000)">9.0</text>
<text font-size="11.6" transform="translate(377.88,159.10) scale(1.0492,1.0000)">8.5</text>
<text font-size="11.6" transform="translate(377.88,186.60) scale(1.0492,1.0000)">8.0</text>
<text font-size="12.2" transform="translate(349.55,139.95) rotate(-90) scale(1.0462,1.0000)">RMA</text>
<text font-size="11.8" transform="translate(364.30,163.75) rotate(-90) scale(1.0027,1.0000)">(signal values)</text>
<text font-size="10.4" transform="translate(407.45,92.85) scale(1.0045,1.0000)"><tspan class="i">P</tspan> &lt; .0001</text>
<text class="b" font-size="17.5" transform="translate(233.03,294.55) scale(1.0311,1.0000)">C</text>
<text font-size="11.0" transform="translate(349.18,257.20) scale(1.0212,1.0000)">BM/Tc (<tspan class="i">WT</tspan>)</text>
<text font-size="11.0" transform="translate(349.19,275.00) scale(1.0100,1.0000)">BM/Tc (<tspan class="i">Cav-1<tspan class="sup" font-size="7.0" dy="-4.1">-/-</tspan></tspan><tspan dy="4.1">)</tspan></text>
<text font-size="10.2" transform="translate(291.54,303.00) scale(1.0427,1.0000)"><tspan class="i">P</tspan> = .005</text>
<text font-size="10.2" transform="translate(462.94,305.00) scale(1.0394,1.0000)"><tspan class="i">P</tspan> = .03</text>
<text font-size="10.0" transform="translate(254.31,322.90) scale(0.9854,1.0000)">20</text>
<text font-size="10.0" transform="translate(254.47,352.20) scale(0.9700,1.0000)">15</text>
<text font-size="10.0" transform="translate(254.45,382.60) scale(1.0000,1.0000)">10</text>
<text font-size="10.0" transform="translate(260.01,413.00) scale(0.9895,1.0000)">5</text>
<text font-size="10.0" transform="translate(260.01,442.40) scale(0.9895,1.0000)">0</text>
<text font-size="11.2" transform="translate(244.15,434.62) rotate(-90) scale(1.0179,1.0000)">Foxp3<tspan class="sup" font-size="7.0" dy="-4.2">+</tspan><tspan dy="4.2"> of CD4</tspan><tspan class="sup" font-size="7.0" dy="-4.2">+</tspan><tspan dy="4.2"> Tc [%]</tspan></text>
<text font-size="10.2" transform="translate(400.37,323.80) scale(0.8682,1.0000)">5×10</text>
<text class="gr" font-size="5.9" transform="translate(421.54,320.80) scale(1.0556,1.0000)">0 4</text>
<text font-size="10.2" transform="translate(400.38,347.30) scale(0.8674,1.0000)">4×10</text>
<text class="gr" font-size="5.9" transform="translate(421.54,344.30) scale(1.0556,1.0000)">0 4</text>
<text font-size="10.2" transform="translate(400.26,370.90) scale(0.8727,1.0000)">3×10</text>
<text class="gr" font-size="5.9" transform="translate(421.54,367.90) scale(1.0556,1.0000)">0 4</text>
<text font-size="10.2" transform="translate(400.06,394.70) scale(0.8818,1.0000)">2×10</text>
<text class="gr" font-size="5.9" transform="translate(421.54,391.70) scale(1.0556,1.0000)">0 4</text>
<text font-size="10.2" transform="translate(400.66,418.00) scale(0.8552,1.0000)">1×10</text>
<text class="gr" font-size="5.9" transform="translate(421.54,415.00) scale(1.0556,1.0000)">0 4</text>
<text font-size="10.0" transform="translate(425.81,441.50) scale(1.1789,1.0000)">0</text>
<text font-size="11.0" transform="translate(378.70,424.78) rotate(-90) scale(0.9662,1.0000)">CD4<tspan class="sup" font-size="7.0" dy="-4.2">+</tspan><tspan dy="4.2"> Foxp3</tspan><tspan class="sup" font-size="7.0" dy="-4.2">+</tspan><tspan dy="4.2"> T cells</tspan></text>
<text font-size="10.8" transform="translate(391.95,429.72) rotate(-90) scale(0.9560,1.0000)">(absol. number/spleen)</text>
<text class="b" font-size="17.5" transform="translate(2.85,478.50) scale(1.0791,1.0000)">D</text>
<text font-size="12.0" transform="translate(151.15,474.45) scale(1.0065,1.0000)">Treg</text>
<text font-size="12.6" transform="translate(43.95,551.31) rotate(-90) scale(0.9426,1.0000)">Cav-1</text>
<text font-size="12.0" transform="translate(60.05,587.74) rotate(-90) scale(0.9812,1.0000)">(relative expression)</text>
<text font-size="11.4" transform="translate(72.37,486.50) scale(1.2571,1.0000)">8</text>
<text font-size="11.4" transform="translate(72.37,514.10) scale(1.2571,1.0000)">6</text>
<text font-size="11.4" transform="translate(72.71,541.15) scale(1.1478,1.0000)">4</text>
<text font-size="11.4" transform="translate(72.39,569.20) scale(1.2190,1.0000)">2</text>
<text font-size="11.4" transform="translate(72.64,596.40) scale(1.1273,1.0000)">0</text>
<text font-size="11.0" transform="translate(125.29,552.30) scale(0.8533,1.0000)">*</text>
<text font-size="11.0" transform="translate(148.02,564.80) scale(1.1360,1.0000)">***</text>
<text font-size="11.0" transform="translate(201.12,538.60) scale(1.1200,1.0000)">***</text>
<text font-size="11.5" transform="translate(250.53,480.55) scale(1.0803,1.0000)">WT untreated</text>
<text font-size="11.5" transform="translate(249.68,492.45) scale(1.1247,1.0000)">B6 --&gt; BALB/c</text>
<text font-size="11.5" transform="translate(249.69,504.60) scale(1.1146,1.0000)">B6--&gt;B6</text>
<text font-size="11.5" transform="translate(249.66,519.75) scale(1.1419,1.0000)">BALB/c --&gt; BALB/c RAG2<tspan class="sup" font-size="7.2" dy="-4.4">-/-</tspan><tspan dy="4.4">C&#947;</tspan><tspan class="sup" font-size="7.2" dy="-4.4">-/-</tspan></text>
<text font-size="11.5" transform="translate(249.65,534.25) scale(1.1523,1.0000)">B6--&gt;BALB/c RAG2<tspan class="sup" font-size="7.2" dy="-4.4">-/-</tspan><tspan dy="4.4">C&#947;</tspan><tspan class="sup" font-size="7.2" dy="-4.4">-/-</tspan></text>
<text font-size="11.5" transform="translate(250.24,548.65) scale(1.1136,1.0000)">Cav-1<tspan class="sup" font-size="7.2" dy="-4.4">-/-</tspan><tspan dy="4.4"> untreated</tspan></text>
</svg>
</body></html>
